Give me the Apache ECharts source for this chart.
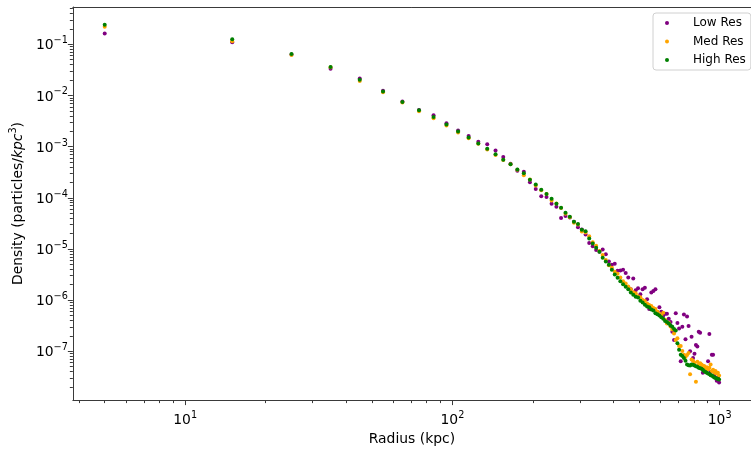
<!DOCTYPE html>
<html><head><meta charset="utf-8">
<script src="https://cdn.jsdelivr.net/npm/echarts@6/dist/echarts.min.js"></script>
<style>html,body{margin:0;padding:0;background:#fff}#c{width:751px;height:451px}</style>
</head><body><div id="c"></div>
<script>
const radius = [5,15,25,35,45,55,65,75,85,95,
  105,115,125,135,145,155,165,175,185,195,
  205,215,225,235,245,255,265,275,285,295,
  305,315,325,335,345,355,365,375,385,395,
  405,415,425,435,445,455,465,475,485,495,
  505,515,525,535,545,555,565,575,585,595,
  605,615,625,635,645,655,665,675,685,695,
  705,715,725,735,745,755,765,775,785,795,
  805,815,825,835,845,855,865,875,885,895,
  905,915,925,935,945,955,965,975,985,995];

const lowRes = [0.163,0.109,0.0629,0.0332,0.0214,0.0123,0.00757,0.00520,0.00408,0.00287,
  0.00206,0.00162,0.00124,0.00111,0.000841,0.000627,0.000460,0.000338,0.000324,0.000202,
  0.000148,0.000107,0.000103,7.64e-5,6.70e-5,4.01e-5,4.38e-5,4.12e-5,3.41e-5,2.65e-5,
  2.39e-5,1.92e-5,1.31e-5,1.13e-5,9.48e-6,8.80e-6,9.77e-6,7.85e-6,5.66e-6,4.90e-6,
  5.12e-6,3.76e-6,3.80e-6,3.93e-6,3.40e-6,2.76e-6,1.63e-6,2.64e-6,1.56e-6,1.70e-6,
  1.30e-6,1.63e-6,1.75e-6,1.04e-6,6.73e-7,1.41e-6,1.51e-6,1.63e-6,5.81e-7,7.24e-7,
  5.89e-7,5.00e-7,5.40e-7,5.40e-7,4.33e-7,3.74e-7,2.41e-7,1.66e-7,5.56e-7,3.58e-7,
  2.78e-7,6.40e-8,3.00e-7,5.22e-7,1.71e-7,4.79e-7,3.10e-7,9.95e-8,1.93e-7,7.41e-8,
  8.95e-8,1.33e-7,1.24e-7,2.41e-7,2.30e-7,5.44e-8,3.82e-8,4.98e-8,4.56e-8,4.36e-8,
  6.40e-8,2.17e-7,3.94e-8,8.57e-8,8.57e-8,3.30e-8,3.82e-8,2.65e-8,3.07e-8,2.46e-8];

const medRes = [0.221,0.114,0.0615,0.0355,0.0191,0.0115,0.00727,0.00488,0.00358,0.00257,
  0.00189,0.00145,0.00114,0.000873,0.000684,0.000549,0.000450,0.000353,0.000275,0.000227,
  0.000174,0.000140,0.000118,8.80e-5,7.70e-5,6.32e-5,4.85e-5,4.16e-5,3.26e-5,3.00e-5,
  2.19e-5,2.10e-5,1.76e-5,1.35e-5,1.16e-5,9.07e-6,7.60e-6,6.08e-6,4.79e-6,4.28e-6,
  3.60e-6,3.29e-6,2.76e-6,2.34e-6,2.12e-6,1.85e-6,1.63e-6,1.42e-6,1.36e-6,1.19e-6,
  1.14e-6,1.00e-6,9.57e-7,8.57e-7,8.02e-7,7.67e-7,7.03e-7,6.73e-7,5.89e-7,5.40e-7,
  4.93e-7,5.64e-7,4.14e-7,3.47e-7,3.62e-7,3.04e-7,2.66e-7,2.23e-7,1.66e-7,1.79e-7,
  1.27e-7,1.26e-7,1.01e-7,8.57e-8,7.74e-8,8.45e-8,9.24e-8,3.55e-8,6.87e-8,6.49e-8,
  5.94e-8,2.54e-8,6.21e-8,5.44e-8,5.81e-8,5.51e-8,4.98e-8,5.14e-8,4.56e-8,4.88e-8,
  4.46e-8,4.76e-8,5.51e-8,4.12e-8,4.36e-8,3.82e-8,4.12e-8,3.66e-8,3.82e-8,3.35e-8];

const highRes = [0.241,0.125,0.0643,0.0358,0.0202,0.0119,0.00741,0.00514,0.00378,0.00269,
  0.00197,0.00151,0.00115,0.000912,0.000706,0.000556,0.000454,0.000358,0.000300,0.000224,
  0.000182,0.000144,0.000119,9.53e-5,7.64e-5,6.41e-5,5.07e-5,4.25e-5,3.41e-5,3.08e-5,
  2.37e-5,2.22e-5,1.59e-5,1.27e-5,1.05e-5,8.80e-6,6.75e-6,5.66e-6,4.90e-6,3.93e-6,
  3.15e-6,2.72e-6,2.34e-6,2.03e-6,1.82e-6,1.63e-6,1.40e-6,1.27e-6,1.16e-6,1.12e-6,
  9.70e-7,8.96e-7,8.13e-7,7.50e-7,7.24e-7,6.57e-7,6.23e-7,5.56e-7,5.27e-7,5.00e-7,
  4.62e-7,4.33e-7,3.91e-7,3.71e-7,3.47e-7,3.18e-7,3.00e-7,2.72e-7,2.55e-7,1.44e-7,
  1.07e-7,8.57e-8,8.09e-8,7.41e-8,6.49e-8,5.51e-8,5.32e-8,5.27e-8,5.51e-8,5.44e-8,
  5.27e-8,5.09e-8,4.98e-8,4.76e-8,4.66e-8,4.56e-8,4.36e-8,4.08e-8,3.94e-8,3.82e-8,
  3.66e-8,3.58e-8,3.40e-8,3.35e-8,3.21e-8,3.07e-8,3.00e-8,2.93e-8,2.87e-8,2.81e-8];

const seriesNames = ['Low Res', 'Med Res', 'High Res'];
const xMajorTicks = [10, 100, 1000];
const xMinorTicks = [4,5,6,7,8,9,20,30,40,50,60,70,80,90,200,300,400,500,600,700,800,900];
const yMajorTicks = [1e-7,1e-6,1e-5,1e-4,1e-3,1e-2,1e-1];
const yMinorTicks = [2e-8,3e-8,4e-8,5e-8,6e-8,7e-8,8e-8,9e-8,
  2e-7,3e-7,4e-7,5e-7,6e-7,7e-7,8e-7,9e-7,
  2e-6,3e-6,4e-6,5e-6,6e-6,7e-6,8e-6,9e-6,
  2e-5,3e-5,4e-5,5e-5,6e-5,7e-5,8e-5,9e-5,
  2e-4,3e-4,4e-4,5e-4,6e-4,7e-4,8e-4,9e-4,
  2e-3,3e-3,4e-3,5e-3,6e-3,7e-3,8e-3,9e-3,
  2e-2,3e-2,4e-2,5e-2,6e-2,7e-2,8e-2,9e-2,
  2e-1,3e-1,4e-1,5e-1];

const FONT = 'DejaVu Sans';
const AX = '#3a3a3a';
const pair = (ys) => radius.map((r, i) => [r, ys[i]]);
const powLabel = (v) => {
  const e = Math.round(Math.log10(v));
  return '{b|10}{s|' + (e < 0 ? '\u2212' + (-e) : e) + '}';
};
const labelRich = {
  b: {fontSize: 13.9, fontFamily: FONT, color: '#000', verticalAlign: 'bottom'},
  s: {fontSize: 9.7, fontFamily: FONT, color: '#000', padding: [0, 0, 7, 0], verticalAlign: 'bottom'}
};

const xRange = {min: 3.8, max: 1310};
const yRange = {min: 1.11e-8, max: 0.535};

const chart = echarts.init(document.getElementById('c'), null, {renderer: 'canvas'});
chart.setOption({
  animation: false,
  backgroundColor: '#fff',
  grid: {left: 70, right: -8, top: 7, bottom: 43, containLabel: false},
  legend: {
    data: seriesNames, orient: 'vertical', left: 653, top: 13,
    icon: 'circle', itemWidth: 10, itemHeight: 4, itemGap: 6.5,
    padding: [4, 5, 4, 12], backgroundColor: '#fff',
    borderColor: '#d0d0d0', borderWidth: 1, borderRadius: 3,
    textStyle: {fontSize: 12, fontFamily: FONT, color: '#000', padding: [0, 0, 0, 16]}
  },
  xAxis: [
    {type: 'log', ...xRange, position: 'bottom',
     name: 'Radius (kpc)', nameLocation: 'middle', nameGap: 28,
     nameTextStyle: {fontSize: 13.9, fontFamily: FONT, color: '#000'},
     axisLine: {show: true, lineStyle: {color: AX, width: 1}},
     axisTick: {show: true, length: 5, customValues: xMajorTicks, lineStyle: {color: AX}},
     axisLabel: {show: true, margin: 10, customValues: xMajorTicks, formatter: powLabel, rich: labelRich},
     splitLine: {show: false}, minorTick: {show: false}},
    {type: 'log', ...xRange, position: 'bottom',
     axisLine: {show: false},
     axisTick: {show: true, length: 3, customValues: xMinorTicks, lineStyle: {color: AX}},
     axisLabel: {show: false}, splitLine: {show: false}},
    {type: 'log', ...xRange, position: 'top',
     axisLine: {show: true, lineStyle: {color: AX, width: 1}},
     axisTick: {show: false}, axisLabel: {show: false}, splitLine: {show: false}}
  ],
  yAxis: [
    {type: 'log', ...yRange, position: 'left',
     name: '{a|Density (particles/}{i|kpc}{s|3}{a|)}', nameLocation: 'middle', nameGap: 45, nameRotate: 90,
     nameTextStyle: {fontSize: 13.9, fontFamily: FONT, color: '#000', rich: {
       a: {fontSize: 13.9, fontFamily: FONT, color: '#000', verticalAlign: 'bottom'},
       i: {fontSize: 13.9, fontFamily: FONT, fontStyle: 'italic', color: '#000', verticalAlign: 'bottom'},
       s: {fontSize: 9.7, fontFamily: FONT, color: '#000', padding: [0, 0, 7, 0], verticalAlign: 'bottom'}
     }},
     axisLine: {show: true, lineStyle: {color: AX, width: 1}},
     axisTick: {show: true, length: 5, customValues: yMajorTicks, lineStyle: {color: AX}},
     axisLabel: {show: true, margin: 5, customValues: yMajorTicks, formatter: powLabel, rich: labelRich},
     splitLine: {show: false}},
    {type: 'log', ...yRange, position: 'left',
     axisLine: {show: false},
     axisTick: {show: true, length: 3, customValues: yMinorTicks, lineStyle: {color: AX}},
     axisLabel: {show: false}, splitLine: {show: false}}
  ],
  series: [
    {name: seriesNames[0], type: 'scatter', data: pair(lowRes), symbolSize: 4,
     itemStyle: {color: '#800080', opacity: 1}, xAxisIndex: 0, yAxisIndex: 0},
    {name: seriesNames[1], type: 'scatter', data: pair(medRes), symbolSize: 4,
     itemStyle: {color: '#ffa500', opacity: 1}, xAxisIndex: 0, yAxisIndex: 0},
    {name: seriesNames[2], type: 'scatter', data: pair(highRes), symbolSize: 4,
     itemStyle: {color: '#008000', opacity: 1}, xAxisIndex: 0, yAxisIndex: 0}
  ]
});
</script></body></html>
